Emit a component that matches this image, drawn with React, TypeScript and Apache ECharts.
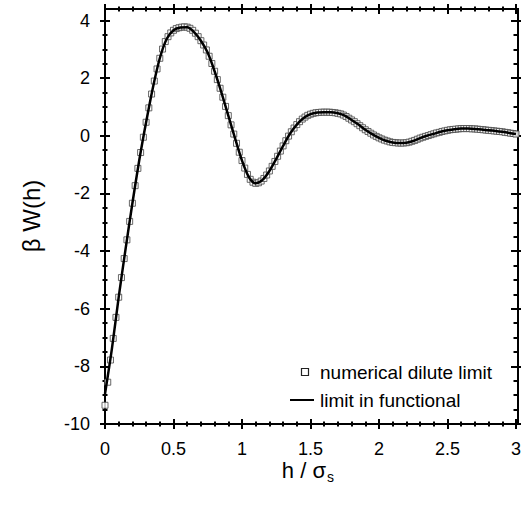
import React, { useEffect, useRef } from "react";
import * as echarts from "echarts";

// numerical dilute limit: h = 0, 0.02, 0.04, ... 3.00
const H_STEP_NUMERICAL = 0.02;
const numericalW = [
  -9.35, -8.55, -7.78, -7.03, -6.3, -5.6, -4.92, -4.26, -3.61, -2.97,
  -2.34, -1.73, -1.13, -0.58, -0.05, 0.47, 0.97, 1.45, 1.9, 2.32,
  2.69, 3.01, 3.27, 3.44, 3.57, 3.66, 3.72, 3.75, 3.77, 3.78,
  3.77, 3.73, 3.66, 3.56, 3.44, 3.3, 3.15, 2.98, 2.76, 2.51,
  2.24, 1.95, 1.65, 1.34, 1.02, 0.7, 0.38, 0.06, -0.26, -0.57,
  -0.86, -1.12, -1.34, -1.51, -1.61, -1.65, -1.63, -1.57, -1.48, -1.36,
  -1.22, -1.06, -0.89, -0.71, -0.53, -0.35, -0.17, -0.01, 0.14, 0.27,
  0.39, 0.49, 0.58, 0.65, 0.71, 0.75, 0.78, 0.8, 0.81, 0.82,
  0.82, 0.82, 0.82, 0.81, 0.8, 0.78, 0.76, 0.72, 0.67, 0.61,
  0.55, 0.49, 0.42, 0.35, 0.28, 0.21, 0.15, 0.09, 0.03, -0.02,
  -0.07, -0.11, -0.15, -0.18, -0.21, -0.23, -0.24, -0.25, -0.25, -0.25,
  -0.24, -0.22, -0.19, -0.16, -0.12, -0.08, -0.05, -0.02, 0.01, 0.04,
  0.07, 0.1, 0.12, 0.15, 0.17, 0.19, 0.21, 0.22, 0.23, 0.24,
  0.25, 0.25, 0.25, 0.25, 0.24, 0.24, 0.23, 0.22, 0.21, 0.2,
  0.19, 0.18, 0.17, 0.16, 0.15, 0.14, 0.12, 0.11, 0.09, 0.08,
  0.06,
];

// limit in functional: h = 0, 0.05, 0.10, ... 3.00
const H_STEP_FUNCTIONAL = 0.05;
const functionalW = [
  -8.95, -7.4, -5.6, -3.93, -2.34, -0.85, 0.47, 1.68, 2.69, 3.36,
  3.66, 3.76, 3.77, 3.6, 3.3, 2.88, 2.24, 1.5, 0.7, -0.1,
  -0.86, -1.43, -1.65, -1.53, -1.22, -0.8, -0.35, 0.07, 0.39, 0.62,
  0.75, 0.81, 0.82, 0.82, 0.78, 0.7, 0.55, 0.39, 0.21, 0.06,
  -0.07, -0.17, -0.23, -0.25, -0.24, -0.18, -0.08, 0.0, 0.07, 0.14,
  0.19, 0.23, 0.25, 0.25, 0.24, 0.22, 0.19, 0.17, 0.14, 0.1,
  0.06,
];

const xTickLabels = [0, 0.5, 1, 1.5, 2, 2.5, 3];
const yTickLabels = [-10, -8, -6, -4, -2, 0, 2, 4];
const xMinorStep = 0.1;
const yMinorStep = 0.5;

const X_MIN = 0;
const X_MAX = 3;
const Y_MIN = -10;
const Y_MAX = 4.4;

const GRID = { left: 105, right: 6, top: 9, bottom: 82 };
const W = 524;
const H = 506;

const FONT = "'Liberation Sans', Arial, Helvetica, sans-serif";

export default function App() {
  const ref = useRef<HTMLDivElement>(null);

  useEffect(() => {
    if (!ref.current) return;
    const chart = echarts.init(ref.current, undefined, { renderer: "svg" });

    const round = (v: number) => Math.round(v * 1000) / 1000;
    const xMinor: number[] = [];
    for (let i = 0; round(X_MIN + i * xMinorStep) <= X_MAX; i++) xMinor.push(round(X_MIN + i * xMinorStep));
    const yMinor: number[] = [];
    for (let i = 0; round(Y_MIN + i * yMinorStep) <= 4; i++) yMinor.push(round(Y_MIN + i * yMinorStep));

    const numericalData = numericalW.map((w, i) => [round(i * H_STEP_NUMERICAL), w]);
    const functionalData = functionalW.map((w, i) => [round(i * H_STEP_FUNCTIONAL), w]);

    const black = "#000";
    const base = (kind: "x" | "y") => ({
      type: "value" as const,
      min: kind === "x" ? X_MIN : Y_MIN,
      max: kind === "x" ? X_MAX : Y_MAX,
      axisLine: { show: false, onZero: false },
      axisLabel: { show: false },
      axisTick: { show: false },
      splitLine: { show: false },
    });
    const labelAxis = (kind: "x" | "y", position: string) => ({
      ...base(kind),
      position,
      axisLabel: {
        show: true,
        customValues: kind === "x" ? xTickLabels : yTickLabels,
        color: black,
        fontSize: 18,
        fontFamily: FONT,
        margin: kind === "x" ? 16 : 15,
        formatter: (v: number) => String(v),
      },
    });
    const tickAxis = (kind: "x" | "y", position: string, values: number[], len: number, width: number) => ({
      ...base(kind),
      position,
      offset: len / 2,
      axisTick: {
        show: true,
        inside: true,
        length: len,
        customValues: values,
        lineStyle: { color: black, width },
      },
    });

    const fx = GRID.left;
    const fy = GRID.top;
    const fw = W - GRID.left - GRID.right;
    const fh = H - GRID.top - GRID.bottom;

    chart.setOption({
      animation: false,
      backgroundColor: "#fff",
      grid: { ...GRID, containLabel: false, show: false },
      xAxis: [
        labelAxis("x", "bottom"),
        tickAxis("x", "bottom", xTickLabels, 10, 2),
        tickAxis("x", "bottom", xMinor, 5, 2),
        tickAxis("x", "top", xTickLabels, 10, 2),
        tickAxis("x", "top", xMinor, 5, 2),
      ],
      yAxis: [
        labelAxis("y", "left"),
        tickAxis("y", "left", yTickLabels, 10, 2),
        tickAxis("y", "left", yMinor, 5, 2),
        tickAxis("y", "right", yTickLabels, 10, 2),
        tickAxis("y", "right", yMinor, 5, 2),
      ],
      series: [
        {
          name: "numerical dilute limit",
          type: "scatter",
          xAxisIndex: 0,
          yAxisIndex: 0,
          data: numericalData,
          symbol: "rect",
          symbolSize: 6,
          clip: false,
          itemStyle: { color: "#fff", borderColor: "#444", borderWidth: 1 },
          z: 2,
        },
        {
          name: "limit in functional",
          type: "line",
          xAxisIndex: 0,
          yAxisIndex: 0,
          data: functionalData,
          smooth: 0.3,
          showSymbol: false,
          symbol: "none",
          lineStyle: { color: black, width: 2.5 },
          z: 3,
        },
      ],
      graphic: [
        {
          type: "polyline",
          z: 1,
          shape: {
            points: [
              [fx, fy],
              [fx + fw, fy],
              [fx + fw, fy + fh],
              [fx, fy + fh],
              [fx, fy],
            ],
          },
          style: { stroke: black, lineWidth: 2, fill: null },
        },
        {
          type: "rect",
          shape: { x: 301.5, y: 368.5, width: 7, height: 7 },
          style: { fill: "#fff", stroke: "#222", lineWidth: 1.2 },
        },
        {
          type: "text",
          x: 320,
          y: 372,
          style: { text: "numerical dilute limit", font: `19px ${FONT}`, fill: black, verticalAlign: "middle" },
        },
        {
          type: "line",
          shape: { x1: 290, y1: 400, x2: 314, y2: 400 },
          style: { stroke: black, lineWidth: 2 },
        },
        {
          type: "text",
          x: 320,
          y: 400,
          style: { text: "limit in functional", font: `19px ${FONT}`, fill: black, verticalAlign: "middle" },
        },
        {
          type: "text",
          x: 31,
          y: 216,
          rotation: Math.PI / 2,
          style: { text: "β W(h)", font: `24px ${FONT}`, fill: black, align: "center", verticalAlign: "middle" },
        },
        {
          type: "text",
          x: 326,
          y: 470,
          style: { text: "h / σ", font: `22px ${FONT}`, fill: black, align: "right", verticalAlign: "middle" },
        },
        {
          type: "text",
          x: 327,
          y: 477,
          style: { text: "s", font: `14px ${FONT}`, fill: black, align: "left", verticalAlign: "middle" },
        },
      ],
    });

    return () => chart.dispose();
  }, []);

  return (
    <div
      ref={ref}
      style={{ position: "fixed", left: 0, top: 0, width: W, height: H, background: "#fff" }}
    />
  );
}
